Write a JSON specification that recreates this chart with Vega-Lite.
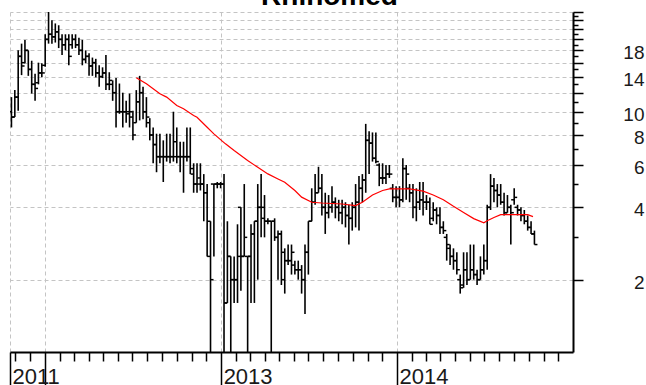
{
"$schema": "https://vega.github.io/schema/vega-lite/v6.json",
"autosize": {"type": "none"},
"padding": {"left": 10, "top": 12, "right": 73, "bottom": 33},
"width": 563,
"height": 340,
"background": "white",
"title": {"text": "Rhinomed", "font": "Liberation Sans", "fontSize": 28, "fontWeight": "bold", "color": "#000000", "anchor": "middle", "dx": 38, "offset": -5},
"config": {"view": {"stroke": null}},
"datasets": {
"bars": [
{"d":"2011-10-24","o":10,"h":11.5,"l":8.6,"c":9.5},
{"d":"2011-10-31","o":9.5,"h":12.3,"l":9.5,"c":11.5},
{"d":"2011-11-07","o":11.5,"h":18,"l":10.1,"c":17},
{"d":"2011-11-14","o":17,"h":19.2,"l":14.2,"c":15.5},
{"d":"2011-11-21","o":16,"h":19.9,"l":15.9,"c":18},
{"d":"2011-11-28","o":18,"h":18,"l":14.1,"c":15},
{"d":"2011-12-05","o":15,"h":16.3,"l":11.9,"c":13},
{"d":"2011-12-12","o":13,"h":14.4,"l":11.1,"c":12.5},
{"d":"2011-12-19","o":13.2,"h":16,"l":13,"c":14.5},
{"d":"2011-12-26","o":14.5,"h":15.9,"l":13.9,"c":14.5},
{"d":"2012-01-02","o":15.6,"h":21,"l":15.4,"c":20},
{"d":"2012-01-09","o":20,"h":26,"l":19.2,"c":21},
{"d":"2012-01-16","o":21,"h":24,"l":19.2,"c":20.5},
{"d":"2012-01-23","o":20.5,"h":23.3,"l":19.4,"c":21.5},
{"d":"2012-01-30","o":21.5,"h":22.9,"l":18.4,"c":20},
{"d":"2012-02-06","o":20,"h":21,"l":17.2,"c":19},
{"d":"2012-02-13","o":19,"h":21,"l":18,"c":20},
{"d":"2012-02-20","o":20,"h":21,"l":15.6,"c":17},
{"d":"2012-02-27","o":19,"h":21,"l":18.3,"c":20},
{"d":"2012-03-05","o":20,"h":21,"l":18.4,"c":19},
{"d":"2012-03-12","o":19,"h":20.3,"l":17.2,"c":18},
{"d":"2012-03-19","o":18,"h":19.9,"l":15.6,"c":16.5},
{"d":"2012-03-26","o":16.5,"h":18,"l":15.9,"c":17},
{"d":"2012-04-02","o":17,"h":17.5,"l":14.1,"c":15.5},
{"d":"2012-04-09","o":15.5,"h":16.8,"l":14.1,"c":16},
{"d":"2012-04-16","o":16,"h":16.6,"l":13.9,"c":14.5},
{"d":"2012-04-23","o":14.5,"h":15.6,"l":12.7,"c":14},
{"d":"2012-04-30","o":14,"h":15.3,"l":13.8,"c":14.5},
{"d":"2012-05-07","o":14.5,"h":17.2,"l":12.3,"c":13},
{"d":"2012-05-14","o":13,"h":14.6,"l":12.3,"c":13.5},
{"d":"2012-05-21","o":13,"h":13.5,"l":11.1,"c":12},
{"d":"2012-05-28","o":12,"h":13.8,"l":8.6,"c":10},
{"d":"2012-06-04","o":10,"h":13.1,"l":9.8,"c":10},
{"d":"2012-06-11","o":10,"h":12,"l":8.6,"c":10},
{"d":"2012-06-18","o":10,"h":11.1,"l":9,"c":9.8},
{"d":"2012-06-25","o":10,"h":11.9,"l":8.6,"c":10},
{"d":"2012-07-02","o":9.5,"h":10.1,"l":7.6,"c":8},
{"d":"2012-07-09","o":9,"h":12.3,"l":9,"c":11},
{"d":"2012-07-16","o":11,"h":14.1,"l":9.2,"c":12},
{"d":"2012-07-23","o":12,"h":12.7,"l":9.3,"c":10},
{"d":"2012-07-30","o":10,"h":11.5,"l":8.6,"c":9.5},
{"d":"2012-08-06","o":9,"h":9.4,"l":7.6,"c":8},
{"d":"2012-08-13","o":8,"h":8.6,"l":6.1,"c":7.3},
{"d":"2012-08-20","o":7.3,"h":8.1,"l":5.6,"c":6.5},
{"d":"2012-08-27","o":6.5,"h":8.1,"l":6.1,"c":6.5},
{"d":"2012-09-03","o":6.5,"h":7.6,"l":5.1,"c":6.5},
{"d":"2012-09-10","o":6.5,"h":8.1,"l":6.2,"c":6.5},
{"d":"2012-09-17","o":6.5,"h":8.1,"l":6.1,"c":6.5},
{"d":"2012-09-24","o":6.5,"h":10,"l":6.2,"c":7.5},
{"d":"2012-10-01","o":6.5,"h":8.6,"l":6.1,"c":6.5},
{"d":"2012-10-08","o":6.5,"h":7.5,"l":5.6,"c":6.5},
{"d":"2012-10-15","o":6.5,"h":7.5,"l":4.6,"c":6.5},
{"d":"2012-10-22","o":6.5,"h":8.6,"l":6.2,"c":6.5},
{"d":"2012-10-29","o":6.5,"h":8.6,"l":5.5,"c":5.8},
{"d":"2012-11-05","o":5.5,"h":6.1,"l":4.6,"c":5},
{"d":"2012-11-12","o":5,"h":6.1,"l":4.6,"c":5},
{"d":"2012-11-19","o":5.3,"h":6.1,"l":4.7,"c":5},
{"d":"2012-11-26","o":5,"h":5.5,"l":3.5,"c":4.6},
{"d":"2012-12-03","o":4.6,"h":5,"l":2.5,"c":2.5},
{"d":"2012-12-10","o":3.5,"h":3.5,"l":0.9,"c":2},
{"d":"2012-12-17","o":5,"h":5,"l":2.5,"c":5},
{"d":"2012-12-24","o":5,"h":5.1,"l":4.8,"c":5},
{"d":"2012-12-31","o":5,"h":5.1,"l":4.8,"c":5},
{"d":"2013-01-07","o":5,"h":5.5,"l":0.9,"c":1.6},
{"d":"2013-01-14","o":1.6,"h":3.5,"l":1.6,"c":2.5},
{"d":"2013-01-21","o":2.5,"h":2.5,"l":0.9,"c":2},
{"d":"2013-01-28","o":2,"h":2.5,"l":1.6,"c":2},
{"d":"2013-02-04","o":2,"h":3.4,"l":1.6,"c":2.5},
{"d":"2013-02-11","o":4,"h":4,"l":1.8,"c":2.5},
{"d":"2013-02-18","o":2.5,"h":5,"l":2.5,"c":3},
{"d":"2013-02-25","o":2.5,"h":2.5,"l":0.9,"c":2.5},
{"d":"2013-03-04","o":2.5,"h":3.4,"l":1.6,"c":3.1},
{"d":"2013-03-11","o":3.1,"h":3.5,"l":1.6,"c":3.5},
{"d":"2013-03-18","o":3.5,"h":5,"l":2,"c":4},
{"d":"2013-03-25","o":4,"h":5.5,"l":3,"c":4},
{"d":"2013-04-01","o":3.6,"h":4.5,"l":3,"c":3.5},
{"d":"2013-04-08","o":3.5,"h":3.6,"l":3.4,"c":3.5},
{"d":"2013-04-15","o":3.5,"h":3.5,"l":0.9,"c":3.5},
{"d":"2013-04-22","o":3.5,"h":3.6,"l":2.9,"c":3},
{"d":"2013-04-29","o":3,"h":3.2,"l":2,"c":3.1},
{"d":"2013-05-06","o":3.1,"h":3.2,"l":1.9,"c":2},
{"d":"2013-05-13","o":2.6,"h":2.7,"l":1.75,"c":2.4},
{"d":"2013-05-20","o":2.4,"h":2.8,"l":2.3,"c":2.4},
{"d":"2013-05-27","o":2.4,"h":2.8,"l":2.1,"c":2.6},
{"d":"2013-06-03","o":2.3,"h":2.4,"l":2.1,"c":2.2},
{"d":"2013-06-10","o":2.2,"h":2.4,"l":2,"c":2.2},
{"d":"2013-06-17","o":2.2,"h":2.3,"l":1.75,"c":2},
{"d":"2013-06-24","o":2,"h":2.8,"l":1.44,"c":2.6},
{"d":"2013-07-01","o":2.6,"h":3.5,"l":2.1,"c":3.5},
{"d":"2013-07-08","o":3.5,"h":4.8,"l":3.5,"c":4.2},
{"d":"2013-07-15","o":4.2,"h":5.5,"l":4.1,"c":4.6},
{"d":"2013-07-22","o":4.6,"h":5.9,"l":4.6,"c":4.8},
{"d":"2013-07-29","o":4.8,"h":5.5,"l":3.7,"c":4},
{"d":"2013-08-05","o":4,"h":4.6,"l":3.1,"c":3.8},
{"d":"2013-08-12","o":3.8,"h":4.5,"l":3.6,"c":4},
{"d":"2013-08-19","o":4,"h":4.9,"l":3.8,"c":4.2},
{"d":"2013-08-26","o":4.2,"h":4.4,"l":3.6,"c":4},
{"d":"2013-09-02","o":4,"h":4.3,"l":3.5,"c":3.8},
{"d":"2013-09-09","o":3.8,"h":4.3,"l":3.4,"c":4},
{"d":"2013-09-16","o":4,"h":4.2,"l":3.3,"c":3.7},
{"d":"2013-09-23","o":3.7,"h":4.1,"l":2.8,"c":3.6},
{"d":"2013-09-30","o":3.6,"h":4.2,"l":3.2,"c":4},
{"d":"2013-10-07","o":4,"h":5,"l":3.3,"c":4.2},
{"d":"2013-10-14","o":4.2,"h":5.4,"l":3.2,"c":4.8},
{"d":"2013-10-21","o":4.8,"h":5.5,"l":4.2,"c":5.2},
{"d":"2013-10-28","o":5.2,"h":8.9,"l":4.6,"c":7.6},
{"d":"2013-11-04","o":7.6,"h":8.3,"l":5.5,"c":7.4},
{"d":"2013-11-11","o":7.4,"h":8.2,"l":6.2,"c":6.4},
{"d":"2013-11-18","o":6.4,"h":8.2,"l":6.1,"c":6.2},
{"d":"2013-11-25","o":6,"h":6.1,"l":4.9,"c":5.3},
{"d":"2013-12-02","o":5.3,"h":6.1,"l":5,"c":5.3},
{"d":"2013-12-09","o":5.3,"h":6,"l":5,"c":5.5},
{"d":"2013-12-16","o":5.5,"h":6,"l":5.3,"c":5.5},
{"d":"2013-12-23","o":4.8,"h":5,"l":4.2,"c":4.4},
{"d":"2013-12-30","o":4.4,"h":4.9,"l":4,"c":4.4},
{"d":"2014-01-06","o":4.4,"h":4.9,"l":4,"c":4.3},
{"d":"2014-01-13","o":4.3,"h":6.4,"l":4.2,"c":5.8},
{"d":"2014-01-20","o":5.8,"h":6,"l":4.3,"c":5.5},
{"d":"2014-01-27","o":4.8,"h":5,"l":4.2,"c":4.6},
{"d":"2014-02-03","o":4.6,"h":5,"l":3.6,"c":4},
{"d":"2014-02-10","o":4,"h":4.8,"l":3.5,"c":4.2},
{"d":"2014-02-17","o":4.2,"h":5.1,"l":3.9,"c":4.3},
{"d":"2014-02-24","o":4.3,"h":5.1,"l":3.7,"c":4.2},
{"d":"2014-03-03","o":4.2,"h":4.5,"l":3.9,"c":4.2},
{"d":"2014-03-10","o":4.2,"h":4.4,"l":3.4,"c":3.4},
{"d":"2014-03-17","o":3.6,"h":4.2,"l":3.5,"c":3.9},
{"d":"2014-03-24","o":3.9,"h":4,"l":3.4,"c":3.7},
{"d":"2014-03-31","o":3.7,"h":4,"l":3.1,"c":3.3},
{"d":"2014-04-07","o":3.3,"h":3.5,"l":3.1,"c":3.2},
{"d":"2014-04-14","o":3,"h":3.1,"l":2.4,"c":2.8},
{"d":"2014-04-21","o":2.7,"h":2.8,"l":2.3,"c":2.5},
{"d":"2014-04-28","o":2.5,"h":2.7,"l":2.2,"c":2.4},
{"d":"2014-05-05","o":2.4,"h":2.6,"l":2.1,"c":2.2},
{"d":"2014-05-12","o":2,"h":2.1,"l":1.75,"c":1.85},
{"d":"2014-05-19","o":1.9,"h":2.6,"l":1.85,"c":2.2},
{"d":"2014-05-26","o":2.2,"h":2.6,"l":1.9,"c":2},
{"d":"2014-06-02","o":2,"h":2.8,"l":2,"c":2.2},
{"d":"2014-06-09","o":2.2,"h":2.8,"l":2,"c":2.1},
{"d":"2014-06-16","o":2.1,"h":2.2,"l":1.9,"c":2},
{"d":"2014-06-23","o":2,"h":2.5,"l":2,"c":2.2},
{"d":"2014-06-30","o":2.2,"h":2.8,"l":2.1,"c":2.4},
{"d":"2014-07-07","o":2.4,"h":4.1,"l":2.2,"c":4},
{"d":"2014-07-14","o":4,"h":5.5,"l":3.9,"c":4.9},
{"d":"2014-07-21","o":4.9,"h":5.3,"l":4.2,"c":4.7},
{"d":"2014-07-28","o":4.7,"h":5,"l":4,"c":4.5},
{"d":"2014-08-04","o":4.5,"h":5,"l":4.1,"c":4.2},
{"d":"2014-08-11","o":4.2,"h":4.6,"l":3.7,"c":3.8},
{"d":"2014-08-18","o":3.8,"h":4.5,"l":3.8,"c":4},
{"d":"2014-08-25","o":4,"h":4.1,"l":2.8,"c":3.8},
{"d":"2014-09-01","o":4.3,"h":4.8,"l":4.1,"c":4.4},
{"d":"2014-09-08","o":4,"h":4.1,"l":3.7,"c":3.9},
{"d":"2014-09-15","o":3.9,"h":4,"l":3.5,"c":3.7},
{"d":"2014-09-22","o":3.7,"h":3.9,"l":3.4,"c":3.5},
{"d":"2014-09-29","o":3.5,"h":3.7,"l":3.2,"c":3.3},
{"d":"2014-10-06","o":3.3,"h":3.5,"l":3.1,"c":3.1},
{"d":"2014-10-13","o":3.1,"h":3.2,"l":2.8,"c":2.8}
],
"ma": [
{"d":"2012-07-09","v":13.85},
{"d":"2012-07-30","v":13.07},
{"d":"2012-08-27","v":11.87},
{"d":"2012-09-10","v":11.5},
{"d":"2012-10-01","v":10.62},
{"d":"2012-10-15","v":10.28},
{"d":"2012-11-05","v":9.65},
{"d":"2012-11-12","v":9.48},
{"d":"2012-12-03","v":8.62},
{"d":"2012-12-17","v":8.09},
{"d":"2013-01-10","v":7.35},
{"d":"2013-01-28","v":6.89},
{"d":"2013-02-25","v":6.26},
{"d":"2013-03-18","v":5.87},
{"d":"2013-04-08","v":5.51},
{"d":"2013-04-29","v":5.25},
{"d":"2013-05-13","v":5.09},
{"d":"2013-06-03","v":4.7},
{"d":"2013-06-17","v":4.41},
{"d":"2013-07-08","v":4.2},
{"d":"2013-07-29","v":4.17},
{"d":"2013-09-09","v":4.13},
{"d":"2013-10-07","v":4.07},
{"d":"2013-10-21","v":4.2},
{"d":"2013-11-11","v":4.5},
{"d":"2013-12-02","v":4.7},
{"d":"2013-12-16","v":4.77},
{"d":"2014-01-27","v":4.77},
{"d":"2014-02-24","v":4.67},
{"d":"2014-03-17","v":4.5},
{"d":"2014-04-07","v":4.3},
{"d":"2014-04-28","v":4.04},
{"d":"2014-05-19","v":3.81},
{"d":"2014-06-09","v":3.59},
{"d":"2014-06-30","v":3.45},
{"d":"2014-07-07","v":3.52},
{"d":"2014-07-21","v":3.63},
{"d":"2014-08-04","v":3.73},
{"d":"2014-09-01","v":3.73},
{"d":"2014-09-29","v":3.73},
{"d":"2014-10-10","v":3.66}
]
},
"layer": [
{
"data": {"name": "bars"},
"mark": {"type": "rule", "color": "#000000", "strokeWidth": 1.6, "clip": true},
"encoding": {
"x": {"field": "d", "type": "temporal",
"scale": {"domain": [{"year": 2011, "month": 10, "date": 21}, {"year": 2015, "month": 1, "date": 1}], "nice": false},
"axis": {
"orient": "bottom", "title": null, "tickCount": 500,
"values": {"expr": "[datetime(2011,9,21), datetime(2011,10,1), datetime(2011,11,1), datetime(2012,0,1), datetime(2012,1,1), datetime(2012,2,1), datetime(2012,3,1), datetime(2012,4,1), datetime(2012,5,1), datetime(2012,6,1), datetime(2012,7,1), datetime(2012,8,1), datetime(2012,9,1), datetime(2012,10,1), datetime(2012,11,1), datetime(2013,0,1), datetime(2013,1,1), datetime(2013,2,1), datetime(2013,3,1), datetime(2013,4,1), datetime(2013,5,1), datetime(2013,6,1), datetime(2013,7,1), datetime(2013,8,1), datetime(2013,9,1), datetime(2013,10,1), datetime(2013,11,1), datetime(2014,0,1), datetime(2014,1,1), datetime(2014,2,1), datetime(2014,3,1), datetime(2014,4,1), datetime(2014,5,1), datetime(2014,6,1), datetime(2014,7,1), datetime(2014,8,1), datetime(2014,9,1), datetime(2014,10,1), datetime(2014,11,1)]"},
"grid": true, "gridColor": "#c4c4c4", "gridDash": [4, 3], "gridWidth": 1,
"gridOpacity": {"condition": {"test": "month(datum.value) == 0 || (year(datum.value) == 2011 && month(datum.value) == 9)", "value": 1}, "value": 0},
"tickSize": {"expr": "(month(datum.value) == 0 || (year(datum.value) == 2011 && month(datum.value) == 9)) ? 33 : 9"},
"tickColor": "#000000", "tickWidth": 1.5,
"domainColor": "#000000", "domainWidth": 2,
"labelExpr": "(year(datum.value) == 2011 && month(datum.value) == 9) ? '2011' : ((month(datum.value) == 0 && year(datum.value) != 2012) ? timeFormat(datum.value, '%Y') : '')",
"labelAlign": "left", "labelBaseline": "top", "labelPadding": -19, "labelOffset": 2,
"labelFont": "Liberation Sans", "labelFontSize": 22, "labelColor": "#1a1a1a",
"labelOverlap": false, "labelFlush": false, "labelBound": false
}
},
"y": {"field": "l", "type": "quantitative",
"scale": {"type": "log", "domain": [1, 26], "nice": false},
"axis": {
"orient": "right", "title": null, "tickCount": 500,
"values": [2,3,4,5,6,7,8,9,10,11,12,13,14,15,16,17,18,19,20,21,22,23,24,25,26],
"grid": true, "gridColor": "#c4c4c4", "gridDash": [4, 3], "gridWidth": 1,
"gridOpacity": {"condition": {"test": "datum.value % 2 == 0", "value": 1}, "value": 0},
"tickSize": {"expr": "datum.value % 2 == 0 ? 10 : 5"},
"tickColor": "#000000", "tickWidth": 1.5,
"domainColor": "#000000", "domainWidth": 2,
"labelExpr": "indexof([2,4,6,8,10,14,18], datum.value) >= 0 ? '' + datum.value : ''",
"labelAlign": "right", "labelBaseline": "middle", "labelPadding": 61, "labelOffset": 2.5,
"labelFont": "Liberation Sans", "labelFontSize": 19, "labelColor": "#1a1a1a",
"labelOverlap": false, "labelFlush": false, "labelBound": false
}
},
"y2": {"field": "h"}
}
},
{
"data": {"name": "bars"},
"mark": {"type": "tick", "orient": "horizontal", "size": 3, "thickness": 1.5, "xOffset": -1.5, "color": "#000000", "opacity": 1, "clip": true},
"encoding": {
"x": {"field": "d", "type": "temporal"},
"y": {"field": "o", "type": "quantitative"}
}
},
{
"data": {"name": "bars"},
"mark": {"type": "tick", "orient": "horizontal", "size": 3, "thickness": 1.5, "xOffset": 1.5, "color": "#000000", "opacity": 1, "clip": true},
"encoding": {
"x": {"field": "d", "type": "temporal"},
"y": {"field": "c", "type": "quantitative"}
}
},
{
"data": {"name": "ma"},
"mark": {"type": "line", "color": "#ff0000", "strokeWidth": 1.2},
"encoding": {
"x": {"field": "d", "type": "temporal"},
"y": {"field": "v", "type": "quantitative"}
}
}
]
}
